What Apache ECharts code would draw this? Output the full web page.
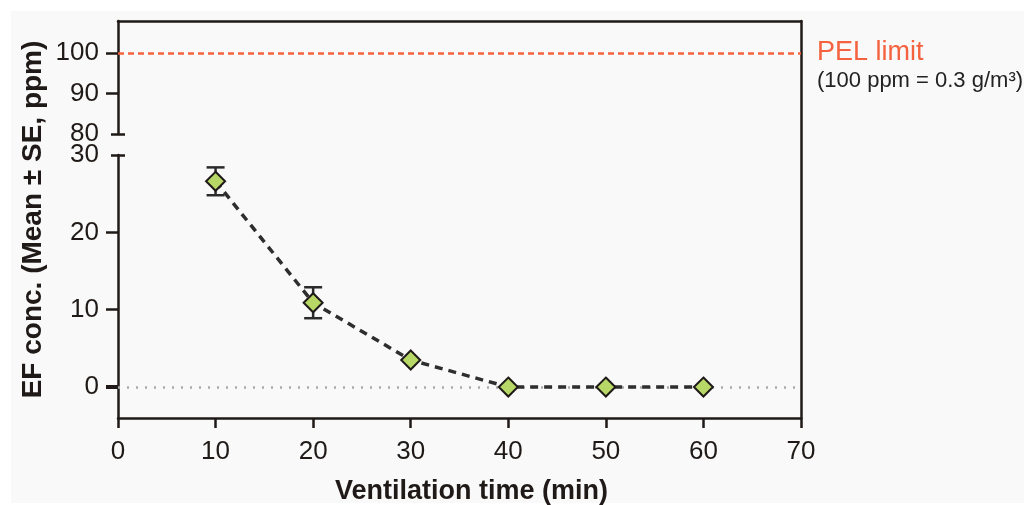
<!DOCTYPE html>
<html lang="en">
<head>
    <meta charset="UTF-8">
    <title>EF ventilation</title>
    <style>
        body {
            margin: 0;
            background: #ffffff;
            font-family: "Liberation Sans", Arial, sans-serif;
        }

        /* light grey panel behind the figure */
        #panel {
            position: absolute;
            left: 11px;
            top: 11px;
            right: 0;
            bottom: 2px;
            background: #f9f9f9;
        }

        #chart-canvas {
            position: absolute;
            left: 0;
            top: 0;
            width: 1024px;
            height: 505px;
        }
    </style>
</head>
<body>
<div id="panel"></div>
<div id="chart-canvas"></div>
<script src="https://cdn.jsdelivr.net/npm/echarts@6/dist/echarts.min.js"></script>
<script type="text/javascript">
    // data
    const ventTimes = [10, 20, 30, 40, 50, 60];
    const meanConc = [26.6, 10.9, 3.5, 0, 0, 0];
    const seConc = [1.8, 2.0, 0, 0, 0, 0];
    const upperTicks = [80, 90, 100];
    const lowerTicks = [0, 10, 20, 30];
    const pelLimit = 100;

    const ink = '#1f1a17';
    const font = '"Liberation Sans", Arial, sans-serif';

    const points = ventTimes.map((t, i) => [t, meanConc[i]]);
    const bars = ventTimes.map((t, i) => [t, meanConc[i], seConc[i]]);

    const lineOnly = {show: true, onZero: false, lineStyle: {color: ink, width: 2.5}};
    const noLabel = {show: false};

    // tick-only axis used for the short break caps and the bold zero tick
    function capAxis(grid, min, max, value, inside, length, width) {
        return {
            type: 'value', gridIndex: grid, position: 'left', min: min, max: max,
            axisLine: {show: false, onZero: false}, splitLine: {show: false}, axisLabel: noLabel,
            axisTick: {show: true, inside: inside, length: length, customValues: [value],
                lineStyle: {color: ink, width: width}}
        };
    }

    let myChart = echarts.init(document.getElementById('chart-canvas'));
    myChart.setOption({
        animation: false,
        textStyle: {fontFamily: font},
        grid: [
            {left: 118, top: 21, width: 683, height: 113, outerBoundsMode: 'none', containLabel: false},
            {left: 118, top: 155, width: 683, height: 263, outerBoundsMode: 'none', containLabel: false},
            {left: 118, top: 21, width: 683, height: 397, outerBoundsMode: 'none', containLabel: false}
        ],
        xAxis: [
            {type: 'value', gridIndex: 0, min: 0, max: 70, show: false},
            {
                type: 'value', gridIndex: 1, min: 0, max: 70, interval: 10,
                axisLine: lineOnly,
                axisTick: {show: true, length: 10, lineStyle: {color: ink, width: 2.5}},
                axisLabel: {color: ink, fontSize: 26, margin: 21, fontFamily: font},
                splitLine: {show: false},
                name: 'Ventilation time (min)', nameLocation: 'middle', nameGap: 60,
                nameTextStyle: {color: ink, fontSize: 27, fontWeight: 'bold', fontFamily: font,
                    padding: [0, 0, 0, 24]}
            },
            {
                type: 'value', gridIndex: 2, position: 'top', min: 0, max: 70,
                axisLine: lineOnly, axisTick: {show: false}, axisLabel: noLabel, splitLine: {show: false}
            }
        ],
        yAxis: [
            {
                type: 'value', gridIndex: 0, min: 80, max: 108,
                axisLine: lineOnly,
                axisTick: {show: true, length: 12, customValues: [90, 100], lineStyle: {color: ink, width: 2.5}},
                axisLabel: {color: ink, fontSize: 26, margin: 19, customValues: upperTicks, fontFamily: font},
                splitLine: {show: false}
            },
            capAxis(0, 80, 108, 80, false, 7, 2.5),
            capAxis(0, 80, 108, 80, true, 7, 2.5),
            {
                type: 'value', gridIndex: 1, min: -4, max: 30,
                axisLine: lineOnly,
                axisTick: {show: true, length: 12, customValues: [10, 20], lineStyle: {color: ink, width: 2.5}},
                axisLabel: {color: ink, fontSize: 26, margin: 19, customValues: lowerTicks, fontFamily: font},
                splitLine: {show: false}
            },
            capAxis(1, -4, 30, 30, false, 7, 2.5),
            capAxis(1, -4, 30, 30, true, 7, 2.5),
            capAxis(1, -4, 30, 0, false, 12, 4),
            {
                type: 'value', gridIndex: 2, position: 'right', min: 0, max: 1,
                axisLine: lineOnly, axisTick: {show: false}, axisLabel: noLabel, splitLine: {show: false}
            },
            {
                type: 'value', gridIndex: 2, position: 'left', min: 0, max: 1,
                axisLine: {show: false, onZero: false}, axisTick: {show: false}, axisLabel: noLabel,
                splitLine: {show: false},
                name: 'EF conc. (Mean \u00b1 SE, ppm)', nameLocation: 'middle', nameGap: 71,
                nameTextStyle: {color: ink, fontSize: 28, fontWeight: 'bold', fontFamily: font}
            }
        ],
        series: [
            {
                // PEL reference line
                type: 'line', xAxisIndex: 0, yAxisIndex: 0, data: [], silent: true,
                markLine: {
                    silent: true, symbol: 'none',
                    lineStyle: {color: '#f4623f', width: 2.5, type: [6, 4]},
                    label: {
                        show: true, position: 'end', distance: 16,
                        formatter: '{a|PEL limit}\n{b|(100 ppm = 0.3 g/m\u00b3)}',
                        padding: [26, 0, 0, 0],
                        rich: {
                            a: {color: '#f4623f', fontSize: 27, lineHeight: 30, fontFamily: font},
                            b: {color: '#222222', fontSize: 22, lineHeight: 27, fontFamily: font}
                        }
                    },
                    data: [{yAxis: pelLimit}]
                }
            },
            {
                // standard error bars
                type: 'custom', xAxisIndex: 1, yAxisIndex: 3, data: bars, z: 2,
                renderItem: function (params, api) {
                    const se = api.value(2);
                    if (!se) return {type: 'group', children: []};
                    const top = api.coord([api.value(0), api.value(1) + se]);
                    const bot = api.coord([api.value(0), api.value(1) - se]);
                    const style = {stroke: '#2b2b2b', lineWidth: 2.5};
                    const half = 9;
                    return {
                        type: 'group',
                        children: [
                            {type: 'line', shape: {x1: top[0], y1: top[1], x2: bot[0], y2: bot[1]}, style: style},
                            {type: 'line', shape: {x1: top[0] - half, y1: top[1], x2: top[0] + half, y2: top[1]}, style: style},
                            {type: 'line', shape: {x1: bot[0] - half, y1: bot[1], x2: bot[0] + half, y2: bot[1]}, style: style}
                        ]
                    };
                }
            },
            {
                type: 'line', xAxisIndex: 1, yAxisIndex: 3, data: points, z: 3,
                symbol: 'diamond', symbolSize: 19,
                itemStyle: {color: '#b7d867', borderColor: ink, borderWidth: 2},
                lineStyle: {color: '#2e2e2e', width: 3.5, type: [8, 6]},
                markLine: {
                    silent: true, symbol: 'none', z: 1,
                    lineStyle: {color: '#aaaaaa', width: 2.5, type: [2, 7]},
                    label: noLabel,
                    data: [{yAxis: 0}]
                }
            }
        ]
    });
</script>
</body>
</html>
